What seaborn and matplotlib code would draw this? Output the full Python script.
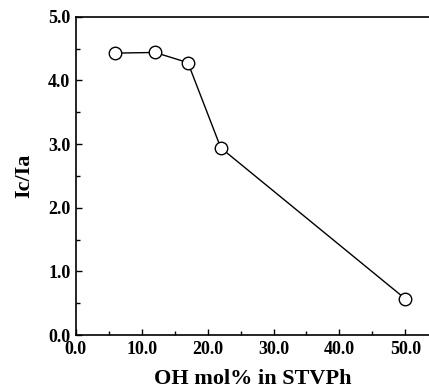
import matplotlib
matplotlib.use("Agg")
import matplotlib.pyplot as plt
import seaborn as sns
from matplotlib.ticker import MultipleLocator, FormatStrFormatter

# data
oh_mol = [6.0, 12.0, 17.0, 22.0, 50.0]
ic_ia = [4.43, 4.44, 4.28, 2.94, 0.57]

sns.set_style("ticks")
plt.rcParams["font.family"] = ["Liberation Serif", "DejaVu Serif"]
plt.rcParams["font.weight"] = "bold"
plt.rcParams["text.color"] = "black"
plt.rcParams["axes.labelcolor"] = "black"
plt.rcParams["xtick.color"] = "black"
plt.rcParams["ytick.color"] = "black"

fig = plt.figure(figsize=(4.29, 3.91), dpi=100)
ax = fig.add_axes([0.177, 0.143, 0.823, 0.814])

sns.lineplot(x=oh_mol, y=ic_ia, ax=ax, color="black", linewidth=1.0,
             marker="o", markersize=9, markerfacecolor="white",
             markeredgecolor="black", markeredgewidth=1.0)

ax.set_xlim(0, 53.6)
ax.set_ylim(0, 5.0)
ax.xaxis.set_major_locator(MultipleLocator(10))
ax.xaxis.set_minor_locator(MultipleLocator(5))
ax.yaxis.set_major_locator(MultipleLocator(1))
ax.yaxis.set_minor_locator(MultipleLocator(0.5))
ax.xaxis.set_major_formatter(FormatStrFormatter("%.1f"))
ax.yaxis.set_major_formatter(FormatStrFormatter("%.1f"))
ax.tick_params(which="both", direction="in", top=False, right=False, width=1.0)
ax.tick_params(which="major", length=4, labelsize=13)
ax.tick_params(axis="x", which="major", pad=4)
ax.tick_params(axis="y", which="major", pad=4)
ax.tick_params(which="minor", length=3)

for s in ["left", "bottom", "top"]:
    ax.spines[s].set_linewidth(1.2)
    ax.spines[s].set_color("black")
ax.spines["right"].set_visible(False)

ax.set_xlabel("OH mol% in STVPh", fontsize=16, fontweight="bold", labelpad=8)
ax.set_ylabel("Ic/Ia", fontsize=16, fontweight="bold", labelpad=10)

fig.savefig("out.png", dpi=100)
